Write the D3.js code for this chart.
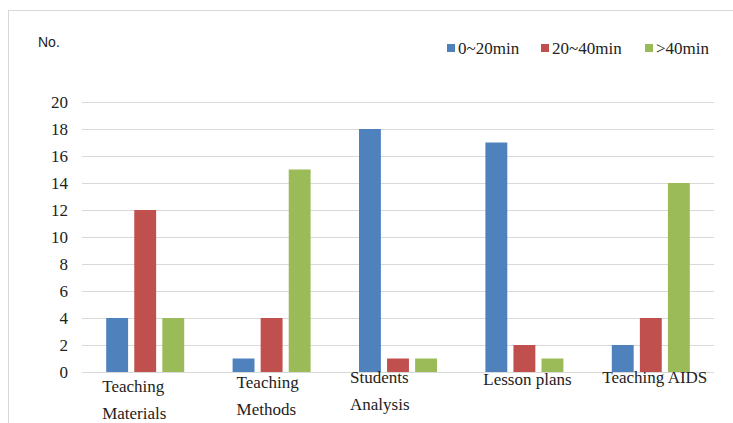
<!DOCTYPE html>
<html>
<head>
<meta charset="utf-8">
<script src="https://cdn.jsdelivr.net/npm/d3@7"></script>
<style>
  body { margin: 0; background: #fff; }
  #chart { width: 733px; height: 423px; }
  .serif { font-family: "Liberation Serif", "Times New Roman", Times, serif; }
  .sans { font-family: "Liberation Sans", Arial, sans-serif; }
</style>
</head>
<body>
<div id="chart"></div>
<script>
// Data
let categories = ["Teaching Materials", "Teaching Methods", "Students Analysis", "Lesson plans", "Teaching AIDS"];
let labelLines = [["Teaching", "Materials"], ["Teaching", "Methods"], ["Students", "Analysis"], ["Lesson plans"], ["Teaching AIDS"]];
let seriesNames = ["0~20min", "20~40min", ">40min"];
let short = [4, 1, 18, 17, 2];
let medium = [12, 4, 1, 2, 4];
let long = [4, 15, 1, 1, 14];
let yTicks = [0, 2, 4, 6, 8, 10, 12, 14, 16, 18, 20];
let colors = ["#4f81bd", "#c0504d", "#9bbb59"];

let series = [short, medium, long];

let W = 733, H = 423;
let margin = {top: 102, right: 19, bottom: 51, left: 82};
let width = W - margin.left - margin.right;
let height = H - margin.top - margin.bottom;

let svg = d3.select("#chart").append("svg")
  .attr("width", W).attr("height", H);

// outer frame
svg.append("rect")
  .attr("x", 8.5).attr("y", 10.5)
  .attr("width", 740).attr("height", 430)
  .attr("fill", "none").attr("stroke", "#d9d9d9");

let g = svg.append("g")
  .attr("transform", "translate(" + margin.left + "," + margin.top + ")");

let x = d3.scaleBand().domain(categories).range([0, width]).paddingInner(0).paddingOuter(0);
let x1 = d3.scaleBand().domain(seriesNames).range([x.bandwidth() / 2 - 39, x.bandwidth() / 2 + 39]).paddingInner(0.22);
let y = d3.scaleLinear().domain([0, 20]).range([height, 0]);

// gridlines
g.selectAll(".grid").data(yTicks).enter().append("line")
  .attr("x1", 0).attr("x2", width)
  .attr("y1", d => Math.round(y(d)) + 0.5).attr("y2", d => Math.round(y(d)) + 0.5)
  .attr("stroke", "#d9d9d9").attr("stroke-width", 1);

// y axis labels
let yAxis = d3.axisLeft(y).tickValues(yTicks).tickSize(0).tickPadding(14);
g.append("g").call(yAxis)
  .attr("font-family", null)
  .call(a => a.select(".domain").remove())
  .selectAll("text")
  .attr("class", "serif")
  .attr("font-size", 17).attr("fill", "#222");

// bars
series.forEach((vals, si) => {
  g.selectAll(".bar" + si).data(vals).enter().append("rect")
    .attr("x", (d, i) => x(categories[i]) + x1(seriesNames[si]))
    .attr("y", d => y(d))
    .attr("width", x1.bandwidth())
    .attr("height", d => height - y(d))
    .attr("fill", colors[si]);
});

// x labels (wrapped like the original)
let labelShift = [[-9, 20], [-1, 16], [-14, 11], [3, 13], [4, 11]];
categories.forEach((c, i) => {
  let multi = labelLines[i].length > 1;
  let t = g.append("text")
    .attr("class", "serif")
    .attr("font-size", 17).attr("fill", "#222")
    .attr("text-anchor", multi ? "start" : "middle");
  let cx = x(c) + x.bandwidth() / 2 + labelShift[i][0];
  labelLines[i].forEach((line, li) => {
    t.append("tspan")
      .attr("x", multi ? cx - 34 : cx)
      .attr("y", height + labelShift[i][1] + li * 27)
      .text(line);
  });
});

// y title
svg.append("text")
  .attr("class", "sans")
  .attr("x", 38).attr("y", 47)
  .attr("font-size", 14).attr("fill", "#222")
  .text("No.");

// legend
let legendX = [447, 541, 645];
seriesNames.forEach((s, i) => {
  svg.append("rect")
    .attr("x", legendX[i]).attr("y", 44)
    .attr("width", 8).attr("height", 8)
    .attr("fill", colors[i]);
  svg.append("text")
    .attr("class", "serif")
    .attr("x", legendX[i] + 11).attr("y", 54)
    .attr("font-size", 17).attr("fill", "#222")
    .text(s);
});
</script>
</body>
</html>
